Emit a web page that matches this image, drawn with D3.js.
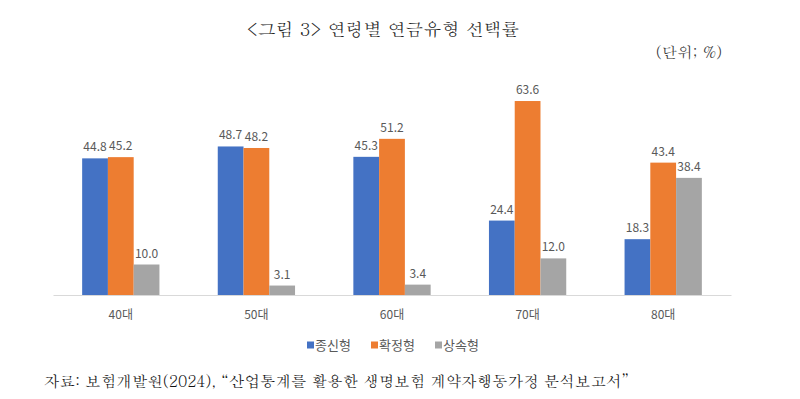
<!DOCTYPE html>
<html>
<head>
<meta charset="utf-8">
<script src="https://cdn.jsdelivr.net/npm/d3@7"></script>
<style>
  body { margin: 0; background: #fff; }
  svg { display: block; }
</style>
</head>
<body>
<div id="chart"></div>
<script>
// data
var ageGroups = ["40대", "50대", "60대", "70대", "80대"];
var seriesNames = ["종신형", "확정형", "상속형"];
var lifetime = [44.8, 48.7, 45.3, 24.4, 18.3];
var fixedTerm = [45.2, 48.2, 51.2, 63.6, 43.4];
var inherit = [10.0, 3.1, 3.4, 12.0, 38.4];
var seriesColors = ["#4472C4", "#ED7D31", "#A5A5A5"];

var width = 800, height = 399;
var serif = "Batang, 'Noto Serif CJK KR', 'Noto Sans CJK KR', serif";
var sans = "'Malgun Gothic', 'Noto Sans CJK KR', sans-serif";

var rows = ageGroups.map(function (g, i) {
  return { group: g, values: [lifetime[i], fixedTerm[i], inherit[i]] };
});

var svg = d3.select("#chart").append("svg")
  .attr("width", width)
  .attr("height", height);

// title + unit
svg.append("text")
  .attr("x", 383).attr("y", 36)
  .attr("text-anchor", "middle")
  .style("font-family", serif).style("font-size", "18px").style("fill", "#222")
  .text("<그림 3> 연령별 연금유형 선택률");
svg.append("text")
  .attr("x", 722).attr("y", 58)
  .attr("text-anchor", "end")
  .style("font-family", serif).style("font-size", "15.5px").style("fill", "#333")
  .text("(단위; %)");

var x0 = d3.scaleBand().domain(ageGroups).range([53, 731]).paddingInner(0.43).paddingOuter(0.215);
var x1 = d3.scaleBand().domain(d3.range(3)).range([0, x0.bandwidth()]);
var y = d3.scaleLinear().domain([0, 70]).range([295, 81.5]);

var g = svg.selectAll(".grp")
  .data(rows)
  .enter().append("g")
  .attr("class", "grp")
  .attr("transform", function (d) { return "translate(" + x0(d.group) + ",0)"; });

g.selectAll("rect")
  .data(function (d) { return d.values; })
  .enter().append("rect")
  .attr("x", function (d, i) { return x1(i); })
  .attr("y", function (d) { return y(d); })
  .attr("width", x1.bandwidth())
  .attr("height", function (d) { return y(0) - y(d); })
  .style("fill", function (d, i) { return seriesColors[i]; });

g.selectAll("text")
  .data(function (d) { return d.values; })
  .enter().append("text")
  .attr("x", function (d, i) { return x1(i) + x1.bandwidth() / 2; })
  .attr("y", function (d) { return y(d) - 7; })
  .attr("text-anchor", "middle")
  .style("font-family", sans).style("font-size", "12px").style("fill", "#595959")
  .text(function (d) { return d.toFixed(1); });

// x axis
var xAxis = d3.axisBottom(x0).tickSize(0).tickPadding(15);
var ax = svg.append("g").attr("transform", "translate(0," + y(0) + ")").call(xAxis);
ax.select(".domain").attr("stroke", "#d9d9d9").attr("stroke-width", 1);
ax.selectAll("text")
  .style("font-family", sans).style("font-size", "12px").style("fill", "#595959");

// legend
var legendX = [307, 371, 435];
var leg = svg.selectAll(".leg")
  .data(seriesNames)
  .enter().append("g")
  .attr("class", "leg")
  .attr("transform", function (d, i) { return "translate(" + legendX[i] + ",345)"; });
leg.append("rect")
  .attr("x", 0).attr("y", -3.5).attr("width", 7).attr("height", 7)
  .style("fill", function (d, i) { return seriesColors[i]; });
leg.append("text")
  .attr("x", 8).attr("y", 4.5)
  .style("font-family", sans).style("font-size", "13px").style("fill", "#595959")
  .text(function (d) { return d; });

// source
svg.append("text")
  .attr("x", 44).attr("y", 387)
  .style("font-family", serif).style("font-size", "15.5px").style("fill", "#111")
  .text("자료: 보험개발원(2024), “산업통계를 활용한 생명보험 계약자행동가정 분석보고서”");
</script>
</body>
</html>
